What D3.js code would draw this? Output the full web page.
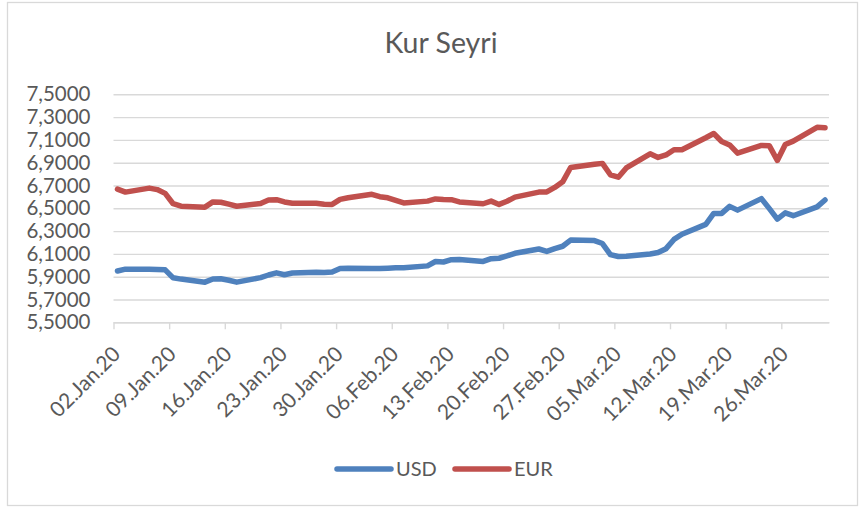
<!DOCTYPE html>
<html>
<head>
<meta charset="utf-8">
<script src="https://cdn.jsdelivr.net/npm/d3@7"></script>
<style>
  html, body { margin: 0; padding: 0; background: #fff; }
  svg { display: block; }
  text { font-family: Lato, "Open Sans", sans-serif; fill: #595959; }
</style>
</head>
<body>
<svg id="chart" width="865" height="509"></svg>
<script>
// ---- data ----
const title = "Kur Seyri";
const dates = [
  "2020-01-02","2020-01-03","2020-01-06","2020-01-07","2020-01-08","2020-01-09","2020-01-10",
  "2020-01-13","2020-01-14","2020-01-15","2020-01-16","2020-01-17",
  "2020-01-20","2020-01-21","2020-01-22","2020-01-23","2020-01-24",
  "2020-01-27","2020-01-28","2020-01-29","2020-01-30","2020-01-31",
  "2020-02-03","2020-02-04","2020-02-05","2020-02-06","2020-02-07",
  "2020-02-10","2020-02-11","2020-02-12","2020-02-13","2020-02-14",
  "2020-02-17","2020-02-18","2020-02-19","2020-02-20","2020-02-21",
  "2020-02-24","2020-02-25","2020-02-26","2020-02-27","2020-02-28",
  "2020-03-02","2020-03-03","2020-03-04","2020-03-05","2020-03-06",
  "2020-03-09","2020-03-10","2020-03-11","2020-03-12","2020-03-13",
  "2020-03-16","2020-03-17","2020-03-18","2020-03-19","2020-03-20",
  "2020-03-23","2020-03-24","2020-03-25","2020-03-26","2020-03-27",
  "2020-03-30","2020-03-31"
];
const usd = [
  5.950,5.966,5.966,5.964,5.960,5.890,5.879,
  5.852,5.880,5.882,5.869,5.852,
  5.892,5.915,5.934,5.917,5.932,
  5.939,5.937,5.941,5.972,5.974,
  5.972,5.972,5.975,5.978,5.979,
  5.995,6.033,6.029,6.049,6.050,
  6.034,6.058,6.062,6.082,6.105,
  6.143,6.122,6.147,6.167,6.221,
  6.217,6.191,6.094,6.077,6.079,
  6.099,6.112,6.146,6.227,6.272,
  6.359,6.455,6.455,6.517,6.484,
  6.585,6.497,6.405,6.460,6.435,
  6.512,6.573
];
const eur = [
  6.668,6.642,6.677,6.664,6.631,6.540,6.519,
  6.510,6.556,6.553,6.536,6.518,
  6.542,6.572,6.576,6.556,6.545,
  6.545,6.536,6.534,6.578,6.592,
  6.623,6.602,6.592,6.569,6.547,
  6.563,6.582,6.578,6.576,6.556,
  6.540,6.563,6.534,6.562,6.598,
  6.642,6.644,6.683,6.732,6.858,
  6.886,6.894,6.794,6.773,6.854,
  6.978,6.946,6.968,7.014,7.014,
  7.119,7.156,7.086,7.056,6.984,
  7.051,7.048,6.920,7.060,7.089,
  7.210,7.207
];
const seriesNames = ["USD", "EUR"];
const seriesColors = ["#4F81BD", "#C0504D"];
const yTicks = [5.5,5.7,5.9,6.1,6.3,6.5,6.7,6.9,7.1,7.3,7.5];
const xTickDates = ["2020-01-02","2020-01-09","2020-01-16","2020-01-23","2020-01-30","2020-02-06",
  "2020-02-13","2020-02-20","2020-02-27","2020-03-05","2020-03-12","2020-03-19","2020-03-26"];
const xTickLabels = ["02.Jan.20","09.Jan.20","16.Jan.20","23.Jan.20","30.Jan.20","06.Feb.20",
  "13.Feb.20","20.Feb.20","27.Feb.20","05.Mar.20","12.Mar.20","19.Mar.20","26.Mar.20"];
const xDomain = ["2020-01-02","2020-04-01"];

// ---- layout ----
const svg = d3.select("#chart");
const plot = { left: 113.5, right: 829, top: 94.3, bottom: 322.3 };
const parse = d3.utcParse("%Y-%m-%d");
const DAY = 864e5;

const x = d3.scaleUtc()
  .domain(xDomain.map(parse))
  .range([plot.left, plot.right]);
const y = d3.scaleLinear()
  .domain([5.5, 7.5])
  .range([plot.bottom, plot.top]);

// outer border
svg.append("rect")
  .attr("x", 7.5).attr("y", 2.5).attr("width", 850).attr("height", 503)
  .attr("fill", "#fff").attr("stroke", "#D9D9D9").attr("stroke-width", 1.3);

// title
svg.append("text")
  .attr("x", 441).attr("y", 52.5)
  .attr("text-anchor", "middle")
  .style("font-size", "28.5px")
  .text(title);

// gridlines + y labels via axis
const yAxis = d3.axisLeft(y)
  .tickValues(yTicks)
  .tickSize(-(plot.right - plot.left))
  .tickPadding(23)
  .tickFormat(d => d3.format(".4f")(d).replace(".", ","));
const gy = svg.append("g")
  .attr("transform", `translate(${plot.left},0)`)
  .call(yAxis);
gy.select(".domain").remove();
gy.selectAll(".tick line").attr("stroke", "#D9D9D9").attr("stroke-width", 1.4);
gy.selectAll(".tick text")
  .style("font-size", "20.5px")
  .style("fill", "#595959");

// x axis ticks
const xTicks = xTickDates.map(parse);
const xAxis = d3.axisBottom(x)
  .tickValues(xTicks)
  .tickSize(7)
  .tickSizeOuter(0)
  .tickFormat("");
const gx = svg.append("g")
  .attr("transform", `translate(0,${plot.bottom})`)
  .call(xAxis);
gx.select(".domain").attr("stroke", "#D9D9D9").attr("stroke-width", 1.4);
gx.selectAll(".tick line").attr("stroke", "#D9D9D9").attr("stroke-width", 1.4);
gx.selectAll(".tick text").remove();

// rotated x labels
svg.append("g").selectAll("g")
  .data(xTicks)
  .join("g")
  .attr("transform", d => `translate(${x(d) + 3},${plot.bottom + 28})`)
  .append("g").attr("transform", "rotate(-45)")
  .append("text")
  .attr("text-anchor", "end").attr("dy", "0.35em")
  .style("font-size", "21px")
  .text((d, i) => xTickLabels[i]);

// lines
const line = d3.line()
  .x((d, i) => x(new Date(+parse(dates[i]) + DAY / 2)))
  .y(d => y(d));
[usd, eur].forEach((vals, k) => {
  svg.append("path")
    .datum(vals)
    .attr("fill", "none")
    .attr("stroke", seriesColors[k])
    .attr("stroke-width", 5.5)
    .attr("stroke-linejoin", "round")
    .attr("stroke-linecap", "round")
    .attr("d", line);
});

// legend
const legendX = [337, 455];
seriesNames.forEach((name, k) => {
  const g = svg.append("g").attr("transform", `translate(${legendX[k]},469)`);
  g.append("line")
    .attr("x1", 0).attr("x2", 54).attr("y1", 0).attr("y2", 0)
    .attr("stroke", seriesColors[k]).attr("stroke-width", 5.5)
    .attr("stroke-linecap", "round");
  g.append("text")
    .attr("x", 59).attr("y", 0).attr("dy", "0.35em")
    .style("font-size", "20px")
    .text(name);
});
</script>
</body>
</html>
